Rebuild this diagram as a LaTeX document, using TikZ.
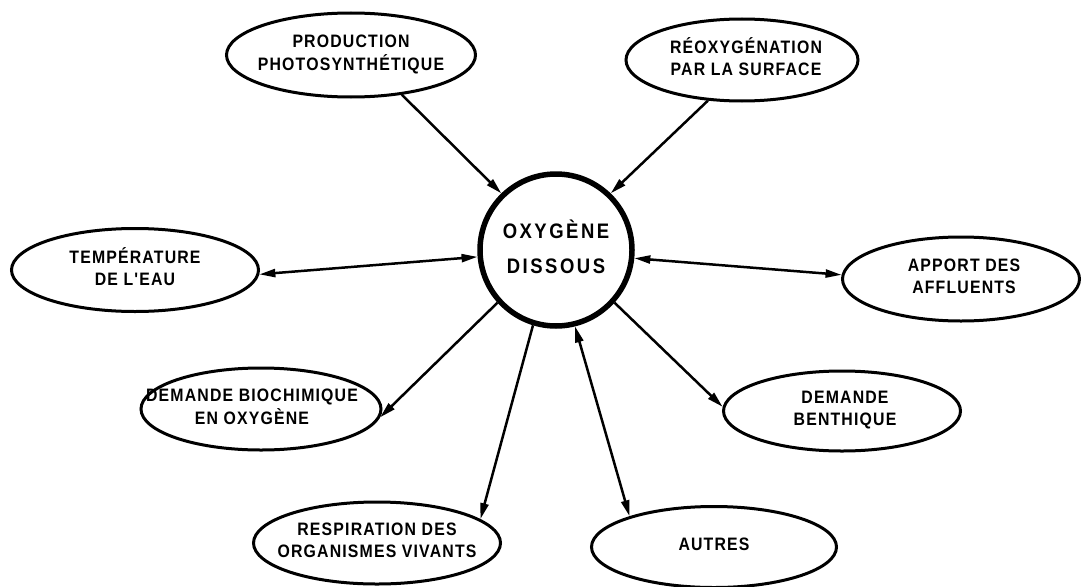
\documentclass[tikz,border=0pt]{standalone}
\usepackage{fontspec}
\newfontfamily\lblfont[LetterSpace=6.5,FakeStretch=0.88]{Liberation Sans}
\newfontfamily\ctrfont[LetterSpace=12,FakeStretch=0.88]{Liberation Sans}
\usetikzlibrary{shapes.geometric,arrows.meta}
\newcommand{\lbl}[2][0pt]{\makebox[0pt]{\kern#1\kern#1\raisebox{\dimexpr-0.25em-3pt\relax}{\smash{\begin{tabular}{@{}c@{}}#2\end{tabular}}}}}
\begin{document}
\begin{tikzpicture}[x=1pt,y=-1pt,
  ell/.style={ellipse,draw,line width=3pt,inner sep=0pt,font=\lblfont\bfseries\fontsize{18}{22}\selectfont},
  ctr/.style={circle,draw,line width=5.5pt,minimum size=152pt,inner sep=0pt,font=\ctrfont\bfseries\fontsize{21}{35}\selectfont},
  conn/.style={line width=2.5pt,-{Triangle[length=16pt,width=8pt]}},
  dconn/.style={line width=2.5pt,{Triangle[length=16pt,width=8pt]}-{Triangle[length=16pt,width=8pt]}}]
\fill[white] (0,0) rectangle (1083,586);
\useasboundingbox (0,0) rectangle (1083,586);
\node[ctr] (c) at (556,250) {\lbl{OXYGÈNE\\DISSOUS}};
\node[ell,minimum width=249pt,minimum height=84pt] (e1) at (351,55) {\lbl{PRODUCTION\\PHOTOSYNTHÉTIQUE}};
\node[ell,minimum width=232pt,minimum height=82pt] (e2) at (742,60) {\lbl[4pt]{RÉOXYGÉNATION\\PAR LA SURFACE}};
\node[ell,minimum width=247pt,minimum height=83pt] (e3) at (135,270) {\lbl{TEMPÉRATURE\\DE L'EAU}};
\node[ell,minimum width=237pt,minimum height=84pt] (e4) at (961,279) {\lbl[3pt]{APPORT DES\\AFFLUENTS}};
\node[ell,minimum width=240pt,minimum height=82pt] (e5) at (261,409) {\lbl[-9pt]{DEMANDE BIOCHIMIQUE\\EN OXYGÈNE}};
\node[ell,minimum width=247pt,minimum height=82pt] (e6) at (377,543) {\lbl{RESPIRATION DES\\ORGANISMES VIVANTS}};
\node[ell,minimum width=237pt,minimum height=80pt] (e7) at (842,411) {\lbl[3pt]{DEMANDE\\BENTHIQUE}};
\node[ell,minimum width=245pt,minimum height=81pt] (e8) at (714,547) {\lbl{AUTRES}};
\draw[conn] (e1.-38) -- (c.134);
\draw[conn] (e2.230) -- (c.46);
\draw[dconn] (e3.-2) -- (c.185);
\draw[dconn] (c.-6) -- (e4.178);
\draw[conn] (c.222) -- (e5.-4);
\draw[conn] (c.253) -- (e6.13);
\draw[conn] (c.-42) -- (e7.178);
\draw[dconn] (c.-76) -- (e8.160);
\end{tikzpicture}
\end{document}
